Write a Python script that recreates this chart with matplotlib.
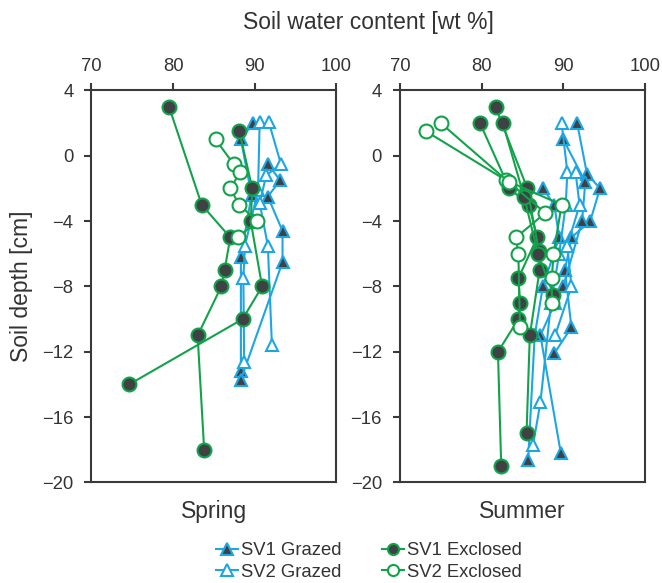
import matplotlib
matplotlib.use('Agg')
import matplotlib.pyplot as plt
from matplotlib.lines import Line2D

plt.rcParams['font.family'] = ['Liberation Sans', 'DejaVu Sans']
TXT = '#333333'

# ---- data: soil water content [wt %] vs depth [cm], one list per profile ----
spring_sv1g_x = [[89.8, 88.3, 89.6, 88.3, 88.3],
                 [91.6, 93.1, 91.6, 93.4, 93.4, 88.3]]
spring_sv1g_d = [[2.0, 1.0, -2.4, -6.2, -13.2],
                 [-0.5, -1.5, -2.5, -4.6, -6.5, -13.7]]
spring_sv2g_x = [[90.6, 90.4, 88.8, 88.6, 88.7],
                 [91.7, 93.2, 91.4, 90.6, 91.6, 92.1]]
spring_sv2g_d = [[2.1, -2.1, -5.5, -7.5, -12.6],
                 [2.1, -0.5, -1.2, -2.9, -5.5, -11.6]]
spring_sv1e_x = [[79.5, 83.5, 87.0, 86.3, 85.9, 83.0, 83.8],
                 [88.1, 89.7, 89.5, 90.9, 88.5, 74.6]]
spring_sv1e_d = [[3.0, -3.0, -5.0, -7.0, -8.0, -11.0, -18.0],
                 [1.5, -2.0, -4.0, -8.0, -10.0, -14.0]]
spring_sv2e_x = [[85.2, 87.4, 88.2, 87.0, 88.1, 90.3, 87.9]]
spring_sv2e_d = [[1.0, -0.5, -1.0, -2.0, -3.0, -4.0, -5.0]]

summer_sv1g_x = [[91.7, 92.9, 94.5, 93.3, 91.0, 90.2, 91.0, 88.9],
                 [90.0, 92.7, 92.3, 90.0, 89.0, 87.2, 89.7],
                 [87.5, 88.9, 89.5, 87.5, 86.5, 85.7]]
summer_sv1g_d = [[2.0, -1.1, -2.0, -4.0, -5.0, -7.0, -10.5, -12.1],
                 [1.0, -1.6, -4.0, -8.0, -9.0, -11.0, -18.2],
                 [-2.0, -3.0, -5.0, -8.0, -11.0, -18.6]]
summer_sv2g_x = [[89.8, 90.5, 90.3, 89.5, 88.5, 87.2, 86.3],
                 [91.5, 92.0, 90.5, 91.0, 89.0]]
summer_sv2g_d = [[2.0, -1.0, -3.0, -6.0, -9.0, -15.1, -17.7],
                 [-1.0, -3.0, -5.5, -8.0, -11.0]]
summer_sv1e_x = [[79.8, 83.4, 85.8, 86.8, 84.5, 84.7, 84.5, 82.0, 82.4],
                 [81.7, 85.6, 87.0, 87.1, 85.9, 85.5],
                 [82.6, 85.2, 86.9, 88.8]]
summer_sv1e_d = [[2.0, -2.0, -3.0, -5.0, -7.5, -9.0, -10.0, -12.0, -19.0],
                 [3.0, -2.0, -5.8, -7.0, -11.0, -17.0],
                 [2.0, -2.5, -6.0, -8.5]]
summer_sv2e_x = [[73.2, 83.0, 89.8, 88.8, 88.6, 88.6],
                 [75.0, 83.3, 87.8, 84.2, 84.5, 84.7]]
summer_sv2e_d = [[1.5, -1.5, -3.0, -6.0, -7.5, -9.0],
                 [2.0, -1.6, -3.5, -5.0, -6.0, -10.5]]

x_ticks = [70, 80, 90, 100]
y_ticks = [4, 0, -4, -8, -12, -16, -20]
season_names = ['Spring', 'Summer']

BLUE = '#1ea6e3'
GREEN = '#12a34a'
DARK = '#3e4245'

styles = {
    'SV1 Grazed': dict(color=BLUE, marker='^', mfc=DARK, mec=BLUE, ms=9),
    'SV2 Grazed': dict(color=BLUE, marker='^', mfc='white', mec=BLUE, ms=9),
    'SV1 Exclosed': dict(color=GREEN, marker='o', mfc=DARK, mec=GREEN, ms=10),
    'SV2 Exclosed': dict(color=GREEN, marker='o', mfc='white', mec=GREEN, ms=10),
}

seasons = [
    [('SV1 Grazed', spring_sv1g_x, spring_sv1g_d), ('SV2 Grazed', spring_sv2g_x, spring_sv2g_d),
     ('SV1 Exclosed', spring_sv1e_x, spring_sv1e_d), ('SV2 Exclosed', spring_sv2e_x, spring_sv2e_d)],
    [('SV1 Grazed', summer_sv1g_x, summer_sv1g_d), ('SV2 Grazed', summer_sv2g_x, summer_sv2g_d),
     ('SV1 Exclosed', summer_sv1e_x, summer_sv1e_d), ('SV2 Exclosed', summer_sv2e_x, summer_sv2e_d)],
]

fig = plt.figure(figsize=(6.62, 5.83), dpi=100)
lefts = [0.1382, 0.6042]
for i, series in enumerate(seasons):
    ax = fig.add_axes([lefts[i], 0.1724, 0.370, 0.6724])
    for name, xs, ds in series:
        st = styles[name]
        for x, d in zip(xs, ds):
            ax.plot(x, d, lw=1.5, mew=1.5, **st)
    ax.set_xlim(70, 100)
    ax.set_ylim(-20, 4)
    ax.set_xticks(x_ticks)
    ax.set_yticks(y_ticks)
    ax.xaxis.tick_top()
    ax.tick_params(axis='both', direction='out', length=5, width=1.5, colors='#3a3a3a',
                   labelsize=13.3, labelcolor=TXT, pad=6)
    ax.tick_params(axis='y', pad=8)
    for sp in ax.spines.values():
        sp.set_linewidth(1.5)
        sp.set_color('#3a3a3a')
    ax.text(0.5, -0.075, season_names[i], transform=ax.transAxes, ha='center', va='center',
            fontsize=16.5, color=TXT)

fig.text(368 / 662, 1 - 22 / 583, 'Soil water content [wt %]', ha='center', va='center',
         fontsize=16.5, color=TXT)
fig.text(22 / 662, 1 - 286 / 583, 'Soil depth [cm]', ha='center', va='center',
         rotation=90, fontsize=16.5, color=TXT)

labels = ['SV1 Grazed', 'SV2 Grazed', 'SV1 Exclosed', 'SV2 Exclosed']
handles = []
for k in labels:
    st = dict(styles[k])
    st['ms'] = 8
    handles.append(Line2D([], [], lw=1.5, mew=1.5, **st))
leg = fig.legend(handles, labels, loc='center', bbox_to_anchor=(369 / 662, 1 - 561.5 / 583),
                 ncol=2, frameon=False, fontsize=13.3, handlelength=1.2, handletextpad=0.15,
                 columnspacing=2.2, labelspacing=0.25, borderpad=0)
for t in leg.get_texts():
    t.set_color(TXT)

fig.savefig('out.png', dpi=100)
